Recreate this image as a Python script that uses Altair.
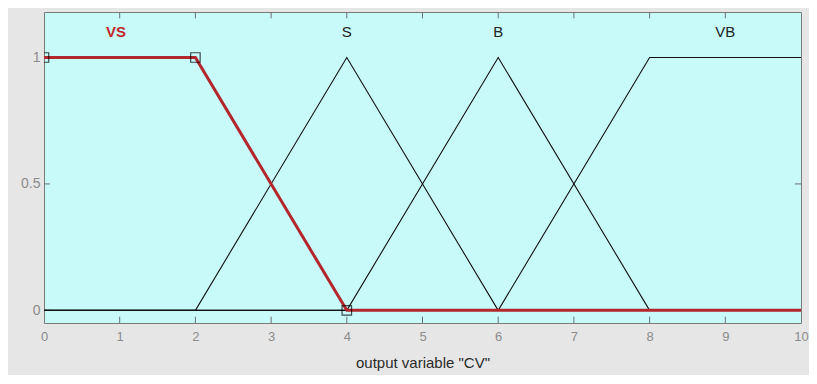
import altair as alt
import pandas as pd

# membership functions of output variable "CV"
vs_x = [0, 2, 4, 10]
vs_y = [1, 1, 0, 0]
s_x = [0, 2, 4, 6, 10]
s_y = [0, 0, 1, 0, 0]
b_x = [0, 4, 6, 8, 10]
b_y = [0, 0, 1, 0, 0]
vb_x = [0, 6, 8, 10]
vb_y = [0, 0, 1, 1]

label_names = ["VS", "S", "B", "VB"]
label_x = [0.95, 4, 6, 9]
label_y = [1.1, 1.1, 1.1, 1.1]

marker_x = [0, 2, 4]
marker_y = [1, 1, 0]

x_tick_values = [0, 1, 2, 3, 4, 5, 6, 7, 8, 9, 10]
y_tick_values = [0, 0.5, 1]

X_DOM = [0, 10]
Y_DOM = [-0.05, 1.18]

rows = []
for name, xs_, ys_ in [("S", s_x, s_y), ("B", b_x, b_y), ("VB", vb_x, vb_y)]:
    for i, (x, y) in enumerate(zip(xs_, ys_)):
        rows.append({"mf": name, "x": x, "y": y, "o": i})
black_df = pd.DataFrame(rows)
red_df = pd.DataFrame({"x": vs_x, "y": vs_y, "o": list(range(len(vs_x)))})
lab_df = pd.DataFrame({"name": label_names, "x": label_x, "y": label_y})
mk_df = pd.DataFrame({"x": marker_x, "y": marker_y})

# inner tick marks (MATLAB style)
inner = [v for v in x_tick_values if 0 < v < 10]
tick_rows = []
for v in inner:
    tick_rows.append({"x": v, "x2": v, "y": Y_DOM[0], "y2": Y_DOM[0] + 0.025})
    tick_rows.append({"x": v, "x2": v, "y": Y_DOM[1], "y2": Y_DOM[1] - 0.025})
for v in y_tick_values:
    tick_rows.append({"x": 0, "x2": 0.08, "y": v, "y2": v})
    tick_rows.append({"x": 9.92, "x2": 10, "y": v, "y2": v})
tick_df = pd.DataFrame(tick_rows)

xs = alt.Scale(domain=X_DOM, nice=False, zero=False)
ys = alt.Scale(domain=Y_DOM, nice=False, zero=False)

x_axis = alt.Axis(values=x_tick_values, title='output variable "CV"', grid=False,
                  domain=False, ticks=False, labelPadding=7, labelColor="#8c8c8c",
                  labelFontSize=13, labelFont="Liberation Sans", titleFont="Liberation Sans",
                  titleFontSize=15, titleFontWeight="normal", titleColor="#2a2a2a",
                  titlePadding=12, labelFlush=False)
y_axis = alt.Axis(values=y_tick_values, title=None, grid=False, domain=False, ticks=False,
                  labelPadding=4, labelColor="#8c8c8c", labelFontSize=14,
                  labelFont="Liberation Sans", labelExpr="datum.value + ''")

base_x = alt.X("x:Q", scale=xs, axis=x_axis)
base_y = alt.Y("y:Q", scale=ys, axis=y_axis)

ticks = alt.Chart(tick_df).mark_rule(color="#6e6e6e", strokeWidth=1).encode(
    x=alt.X("x:Q", scale=xs, axis=x_axis), x2="x2:Q",
    y=alt.Y("y:Q", scale=ys, axis=y_axis), y2="y2:Q")

black = alt.Chart(black_df).mark_line(color="#111111", strokeWidth=1.1).encode(
    x=base_x, y=base_y, detail="mf:N", order="o:Q")

red = alt.Chart(red_df).mark_line(color="#b3262b", strokeWidth=3).encode(
    x=base_x, y=base_y, order="o:Q")

markers = alt.Chart(mk_df).mark_point(shape="square", size=90, filled=False,
                                      color="#000000", strokeWidth=1.2, clip=True).encode(
    x=base_x, y=base_y)

labels_red = alt.Chart(lab_df).transform_filter(alt.datum.name == "VS").mark_text(
    font="Liberation Sans", fontSize=15, baseline="middle", align="center",
    fontWeight="bold", color="#c0282d").encode(x=base_x, y=base_y, text="name:N")

labels_black = alt.Chart(lab_df).transform_filter(alt.datum.name != "VS").mark_text(
    font="Liberation Sans", fontSize=15, baseline="middle", align="center",
    color="#222222").encode(x=base_x, y=base_y, text="name:N")

chart = alt.layer(ticks, black, red, markers, labels_red, labels_black).properties(
    width=757, height=311,
    autosize=alt.AutoSizeParams(type="none"),
    padding={"left": 36, "top": 4, "right": 8, "bottom": 52},
    background="#e6e6e6",
).configure_view(fill="#c8fafa", stroke="#7a7a7a", strokeWidth=1)

chart.save("out.html", embed_options={"renderer": "svg", "actions": False})
